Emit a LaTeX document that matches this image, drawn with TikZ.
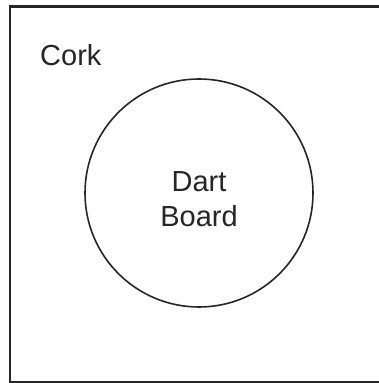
\documentclass[tikz,border=0pt]{standalone}
\usepackage{fontspec}
\setmainfont{Liberation Sans}
\usetikzlibrary{positioning}

\begin{document}
\begin{tikzpicture}[x=1pt, y=1pt, every node/.style={font=\fontsize{29}{35}\selectfont, text=black!85}]
            \useasboundingbox (0, 0) rectangle (379, 383);
            \clip (0, 0) rectangle (379, 383);
            \draw[line width=2.2pt, black!85] (10, 0.5) rectangle (400, 376.5);
            \node[anchor=base west, inner sep=0pt] (cork) at (40, 317) {Cork};
            \node[draw, circle, line width=1.6pt, draw=black!85, minimum size=228pt] (board) at (199, 190) {};
            \node[align=center, below=6pt of board.center, anchor=center] (label) {Dart\\Board};
        \end{tikzpicture}
\end{document}
